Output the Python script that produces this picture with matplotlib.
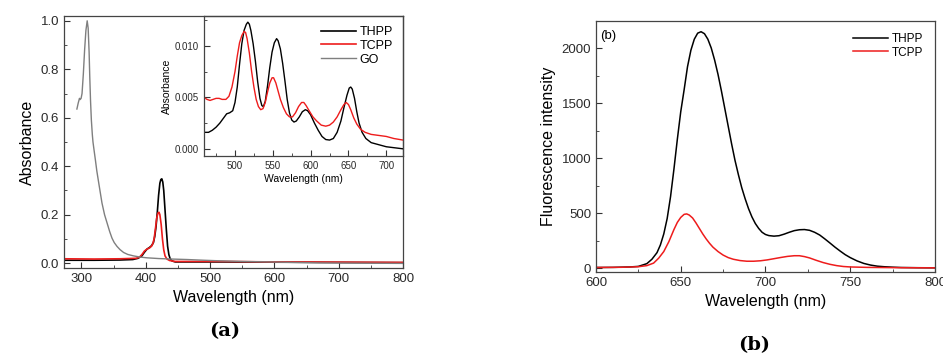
import numpy as np
import matplotlib.pyplot as plt
from matplotlib.ticker import MultipleLocator

plt.rcParams['font.family'] = ['Liberation Sans', 'DejaVu Sans']

# --- Panel (a): UV-vis absorbance, full range ---
go_wl = [293, 295, 297, 298, 299.5, 301, 303, 305, 307, 309, 310.5, 312, 313, 314.2, 315.5, 317,
         318, 320, 321.7, 324, 327, 332, 336, 340, 344, 347.6, 351, 355.4, 360, 365.6, 372, 381,
         391.5, 402, 420, 440, 464, 490, 516, 550, 593, 630, 671, 730, 800]
go_abs = [0.636, 0.66, 0.68, 0.675, 0.68, 0.70, 0.78, 0.88, 0.96, 1.0, 0.97, 0.87, 0.77, 0.67,
          0.59, 0.53, 0.50, 0.46, 0.427, 0.38, 0.33, 0.248, 0.20, 0.165, 0.13, 0.103, 0.085, 0.069,
          0.056, 0.044, 0.036, 0.03, 0.025, 0.022, 0.019, 0.017, 0.015, 0.012, 0.0095, 0.007,
          0.005, 0.003, 0.001, 0.0, -0.001]

thpp_wl = [273, 320, 360, 380, 388, 394, 398, 402, 406, 409, 412, 414, 416, 418, 420, 422, 423.5,
           425, 426.5, 428, 430, 432, 434, 436, 438, 441, 446, 520, 600, 700, 800]
thpp_abs = [0.012, 0.012, 0.013, 0.015, 0.02, 0.03, 0.045, 0.058, 0.065, 0.072, 0.085, 0.11, 0.15,
            0.21, 0.28, 0.33, 0.345, 0.348, 0.335, 0.30, 0.22, 0.14, 0.07, 0.035, 0.018, 0.009,
            0.005, 0.005, 0.004, 0.003, 0.002]

tcpp_wl = [273, 320, 360, 385, 390, 394, 398, 402, 406, 409, 411, 413, 415, 417, 419, 420.6, 422,
           424, 426, 428, 430, 433, 437, 445, 520, 560, 600, 700, 800]
tcpp_abs = [0.018, 0.017, 0.018, 0.02, 0.024, 0.035, 0.05, 0.058, 0.063, 0.07, 0.08, 0.10, 0.14,
            0.185, 0.207, 0.21, 0.20, 0.16, 0.10, 0.055, 0.03, 0.017, 0.011, 0.007, 0.007, 0.006,
            0.005, 0.004, 0.003]

# --- Inset: Q bands ---
ins_thpp_wl = [460, 465, 470, 475, 480, 485, 489, 493, 497, 500, 503, 506, 509, 512, 515, 517,
               519, 521, 524, 527, 530, 533, 535.5, 537.5, 540, 543, 546, 549, 552, 555, 557,
               560, 563, 566, 569, 572, 575, 578, 581, 585, 589, 593, 596, 600, 605, 610, 615,
               620, 625, 630, 635, 640, 644, 648, 651, 653, 655, 658, 661, 664, 668, 673, 680,
               690, 700, 722]
ins_thpp_abs = [0.0016, 0.0016, 0.0018, 0.0021, 0.0025, 0.003, 0.0034, 0.0035, 0.0037, 0.0045,
                0.006, 0.0082, 0.0102, 0.0115, 0.0121, 0.0123, 0.0121, 0.0115, 0.0102, 0.0085,
                0.0065, 0.0049, 0.0042, 0.0041, 0.0046, 0.0061, 0.0079, 0.0094, 0.0103, 0.0107,
                0.0105, 0.0097, 0.0083, 0.0066, 0.0048, 0.0035, 0.0028, 0.0026, 0.0027, 0.0031,
                0.0036, 0.0038, 0.0037, 0.0033, 0.0025, 0.0018, 0.0012, 0.0009, 0.00085, 0.001,
                0.0016, 0.0027, 0.004, 0.0052, 0.0059, 0.006, 0.0058, 0.0049, 0.0036, 0.0025,
                0.0016, 0.001, 0.0006, 0.0004, 0.0002, 0.0]

ins_tcpp_wl = [459, 463, 467, 471, 475, 479, 483, 488, 492, 496, 500, 503, 506, 509, 512, 514,
               516, 519, 522, 525, 528, 531, 534, 537, 540, 543, 546, 549, 551, 554, 557, 560,
               564, 568, 572, 576, 580, 584, 588, 591, 594, 598, 603, 608, 614, 620, 625, 630,
               635, 640, 644, 647, 650, 653, 657, 661, 666, 672, 680, 690, 700, 710, 722]
ins_tcpp_abs = [0.005, 0.0048, 0.0047, 0.0048, 0.0049, 0.0049, 0.0048, 0.0048, 0.0051, 0.006,
                0.0075, 0.009, 0.0103, 0.011, 0.0114, 0.0113, 0.0107, 0.0093, 0.0075, 0.006,
                0.0048, 0.0041, 0.0038, 0.0039, 0.0045, 0.0055, 0.0064, 0.0069, 0.0069, 0.0064,
                0.0056, 0.0048, 0.004, 0.0034, 0.0031, 0.0031, 0.0035, 0.0041, 0.0045, 0.0045,
                0.0042, 0.0037, 0.0031, 0.0027, 0.0023, 0.0022, 0.0023, 0.0026, 0.0031, 0.0038,
                0.0043, 0.0045, 0.0043, 0.0038, 0.003, 0.0024, 0.0019, 0.0016, 0.0014, 0.0013,
                0.0012, 0.001, 0.00085]

# --- Panel (b): fluorescence ---
fl_thpp_wl = [600, 610, 620, 625, 630, 633, 636, 638, 640, 642, 644, 646, 648, 650, 652, 654, 656,
              658, 660, 662, 664, 666, 668, 670, 672, 674, 676, 678, 680, 682, 684, 686, 688, 690,
              692, 694, 696, 698, 700, 702, 705, 708, 711, 714, 717, 720, 723, 726, 729, 732, 735,
              738, 741, 744, 747, 750, 754, 758, 762, 766, 770, 775, 780, 790, 800]
fl_thpp_int = [5, 6, 10, 15, 40, 80, 140, 210, 310, 450, 650, 900, 1170, 1420, 1620, 1830, 1980,
               2080, 2135, 2148, 2130, 2080, 2000, 1890, 1760, 1610, 1450, 1290, 1130, 980, 850,
               730, 630, 540, 465, 405, 360, 325, 305, 295, 290, 294, 308, 325, 340, 348, 350, 343,
               325, 300, 265, 228, 190, 155, 122, 95, 65, 42, 27, 17, 12, 8, 5, 3, 2]

fl_tcpp_wl = [600, 615, 625, 630, 634, 637, 640, 643, 646, 648, 650, 652, 653.5, 655, 657, 659,
              661, 663, 665, 667, 669, 672, 675, 678, 681, 685, 689, 693, 697, 701, 705, 709, 713,
              717, 720, 723, 726, 730, 734, 738, 742, 746, 750, 760, 780, 800]
fl_tcpp_int = [5, 7, 12, 22, 45, 90, 150, 240, 350, 415, 460, 488, 492, 482, 455, 410, 360, 310,
               265, 225, 190, 150, 118, 95, 80, 68, 62, 62, 66, 74, 85, 96, 106, 112, 112, 104, 92,
               70, 50, 34, 22, 14, 10, 6, 3, 2]

black = "#000000"
red = "#ee1c1c"
gray = "#7f7f7f"
frame = "#444444"


def style_axes(ax, size):
    for s in ax.spines.values():
        s.set_color(frame)
        s.set_linewidth(0.9)
    ax.tick_params(which="both", direction="in", colors="#333333", labelsize=size,
                   labelcolor="#2a2a2a")
    ax.tick_params(which="major", length=4)
    ax.tick_params(which="minor", length=2.5)


fig = plt.figure(figsize=(9.43, 3.58), dpi=100)

ax1 = fig.add_axes([0.0679, 0.2514, 0.3595, 0.704])
ax1.plot(thpp_wl, thpp_abs, color=black, lw=1.2, label="THPP")
ax1.plot(tcpp_wl, tcpp_abs, color=red, lw=1.2, label="TCPP")
ax1.plot(go_wl, go_abs, color=gray, lw=1.0, label="GO")
ax1.set_xlim(273, 800)
ax1.set_ylim(-0.02, 1.02)
ax1.xaxis.set_major_locator(MultipleLocator(100))
ax1.xaxis.set_minor_locator(MultipleLocator(50))
ax1.yaxis.set_major_locator(MultipleLocator(0.2))
ax1.yaxis.set_minor_locator(MultipleLocator(0.1))
ax1.yaxis.set_major_formatter(plt.FormatStrFormatter("%.1f"))
ax1.set_xlabel("Wavelength (nm)", fontsize=11.5)
ax1.set_ylabel("Absorbance", fontsize=11.5)
style_axes(ax1, 9.5)

ins = fig.add_axes([0.2163, 0.5642, 0.211, 0.3911])
ins.plot(ins_thpp_wl, ins_thpp_abs, color=black, lw=1.0)
ins.plot(ins_tcpp_wl, ins_tcpp_abs, color=red, lw=1.0)
ins.set_xlim(459, 722)
ins.set_ylim(-0.0007, 0.0129)
ins.xaxis.set_major_locator(MultipleLocator(50))
ins.xaxis.set_minor_locator(MultipleLocator(25))
ins.yaxis.set_major_locator(MultipleLocator(0.005))
ins.yaxis.set_minor_locator(MultipleLocator(0.0025))
ins.yaxis.set_major_formatter(plt.FormatStrFormatter("%.3f"))
ins.set_xlabel("Wavelength (nm)", fontsize=7.5, labelpad=2)
ins.set_ylabel("Absorbance", fontsize=7.5, labelpad=2)
style_axes(ins, 7)
ins.patch.set_alpha(0)

ax1.legend(loc="upper right", frameon=False, fontsize=9, handlelength=2.8,
           handletextpad=0.3, labelspacing=0.15, borderaxespad=0.4)

fig.text(0.2385, 0.075, "(a)", fontsize=14, fontweight="bold", family="DejaVu Serif",
         ha="center", va="center")

ax2 = fig.add_axes([0.632, 0.2402, 0.3595, 0.701])
ax2.plot(fl_thpp_wl, fl_thpp_int, color=black, lw=1.1, label="THPP")
ax2.plot(fl_tcpp_wl, fl_tcpp_int, color=red, lw=1.1, label="TCPP")
ax2.set_xlim(600, 800)
ax2.set_ylim(-36, 2245)
ax2.xaxis.set_major_locator(MultipleLocator(50))
ax2.xaxis.set_minor_locator(MultipleLocator(25))
ax2.yaxis.set_major_locator(MultipleLocator(500))
ax2.yaxis.set_minor_locator(MultipleLocator(250))
ax2.set_xlabel("Wavelength (nm)", fontsize=11.5)
ax2.set_ylabel("Fluorescence intensity", fontsize=11.5)
style_axes(ax2, 9.5)
ax2.text(0.012, 0.965, "(b)", transform=ax2.transAxes, fontsize=9.5, ha="left", va="top")
ax2.legend(loc="upper right", frameon=False, fontsize=8.5, handlelength=3.0,
           handletextpad=0.3, labelspacing=0.15, borderaxespad=0.6)

fig.text(0.8, 0.035, "(b)", fontsize=14, fontweight="bold", family="DejaVu Serif",
         ha="center", va="center")

plt.savefig("out.png", dpi=100)
